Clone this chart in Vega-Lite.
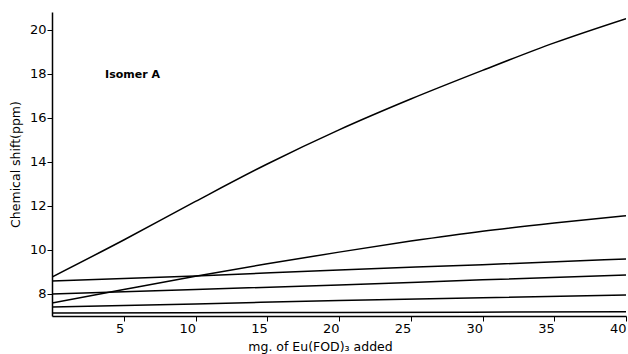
{
  "$schema": "https://vega.github.io/schema/vega-lite/v6.json",
  "width": 574,
  "height": 304,
  "autosize": {"type": "none"},
  "padding": {"left": 52, "top": 12, "right": 2, "bottom": 38},
  "background": "white",
  "config": {
    "view": {"stroke": null},
    "font": "DejaVu Sans",
    "axis": {
      "domainColor": "black",
      "domainWidth": 1.5,
      "tickColor": "black",
      "tickWidth": 1,
      "tickSize": 5,
      "grid": false,
      "labelColor": "black",
      "labelFont": "DejaVu Sans",
      "labelFontSize": 13,
      "titleFont": "DejaVu Sans",
      "titleFontSize": 12.5,
      "titleFontWeight": "normal",
      "titleColor": "black"
    }
  },
  "layer": [
    {
      "data": {
        "values": [
          {"s": "T", "x": 0, "y": 8.77},
          {"s": "T", "x": 5, "y": 10.45},
          {"s": "T", "x": 10, "y": 12.2},
          {"s": "T", "x": 15, "y": 13.9},
          {"s": "T", "x": 20, "y": 15.45},
          {"s": "T", "x": 25, "y": 16.85},
          {"s": "T", "x": 30, "y": 18.15},
          {"s": "T", "x": 35, "y": 19.4},
          {"s": "T", "x": 40, "y": 20.5},
          {"s": "C", "x": 0, "y": 7.59},
          {"s": "C", "x": 5, "y": 8.2},
          {"s": "C", "x": 10, "y": 8.8},
          {"s": "C", "x": 15, "y": 9.37},
          {"s": "C", "x": 20, "y": 9.9},
          {"s": "C", "x": 25, "y": 10.4},
          {"s": "C", "x": 30, "y": 10.85},
          {"s": "C", "x": 35, "y": 11.22},
          {"s": "C", "x": 40, "y": 11.55},
          {"s": "A", "x": 0, "y": 8.59},
          {"s": "A", "x": 10, "y": 8.82},
          {"s": "A", "x": 20, "y": 9.09},
          {"s": "A", "x": 30, "y": 9.33},
          {"s": "A", "x": 40, "y": 9.59},
          {"s": "B", "x": 0, "y": 8.0},
          {"s": "B", "x": 10, "y": 8.2},
          {"s": "B", "x": 20, "y": 8.41},
          {"s": "B", "x": 30, "y": 8.64},
          {"s": "B", "x": 40, "y": 8.86},
          {"s": "D", "x": 0, "y": 7.41},
          {"s": "D", "x": 10, "y": 7.55},
          {"s": "D", "x": 20, "y": 7.7},
          {"s": "D", "x": 30, "y": 7.83},
          {"s": "D", "x": 40, "y": 7.95},
          {"s": "E", "x": 0, "y": 7.14},
          {"s": "E", "x": 20, "y": 7.16},
          {"s": "E", "x": 40, "y": 7.19}
        ]
      },
      "mark": {"type": "line", "color": "black", "strokeWidth": 1.5, "interpolate": "monotone", "clip": true},
      "encoding": {
        "x": {
          "field": "x", "type": "quantitative",
          "scale": {"domain": [0, 40], "nice": false, "zero": false},
          "axis": {
            "values": [5, 10, 15, 20, 25, 30, 35, 40],
            "title": "mg. of Eu(FOD)₃ added",
            "titleX": 268,
            "titlePadding": 5,
            "labelAlign": "right",
            "labelDx": 1,
            "labelPadding": 1,
            "labelFlush": false
          }
        },
        "y": {
          "field": "y", "type": "quantitative",
          "scale": {"domain": [7, 20.8], "nice": false, "zero": false},
          "axis": {
            "values": [8, 10, 12, 14, 16, 18, 20],
            "title": "Chemical shift(ppm)",
            "titlePadding": 7,
            "labelDy": 3,
            "labelPadding": 1,
            "labelFlush": false
          }
        },
        "detail": {"field": "s", "type": "nominal"}
      }
    },
    {
      "data": {"values": [{"label": "Isomer A", "x": 3.7, "y": 17.95}]},
      "mark": {"type": "text", "align": "left", "baseline": "middle", "fontSize": 11, "fontWeight": "bold", "font": "DejaVu Sans", "color": "black"},
      "encoding": {
        "x": {"field": "x", "type": "quantitative"},
        "y": {"field": "y", "type": "quantitative"},
        "text": {"field": "label", "type": "nominal"}
      }
    }
  ]
}
